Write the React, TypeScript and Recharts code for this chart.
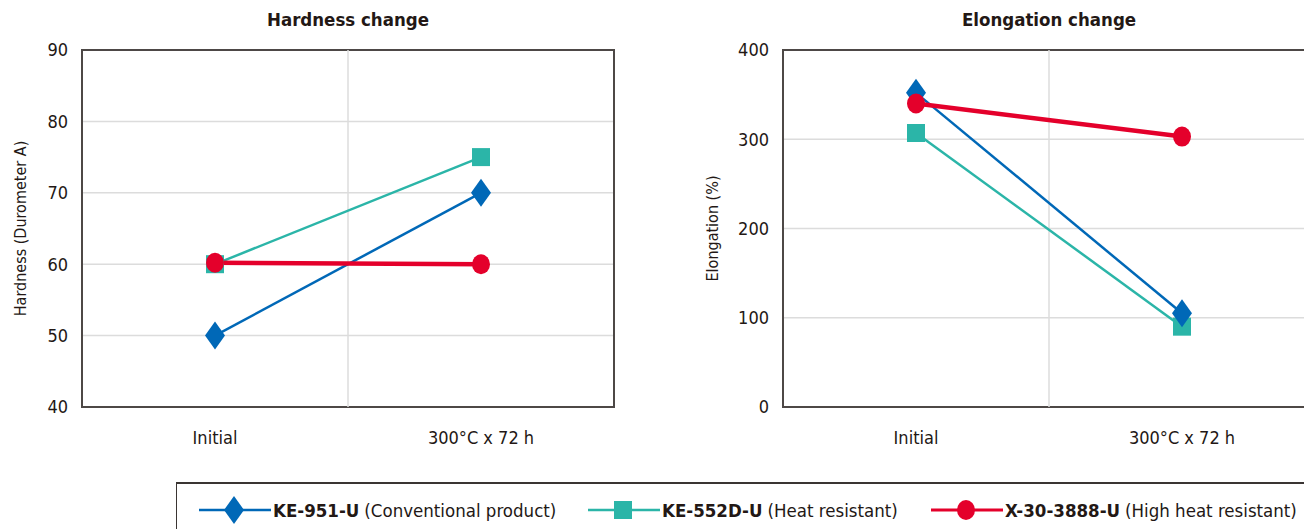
import React from 'react';
import { LineChart, Line, XAxis, YAxis, CartesianGrid, ReferenceLine, ReferenceArea } from 'recharts';

const FONT = '"Liberation Sans Narrow", "DejaVu Sans Condensed", "Roboto", sans-serif';

// categories sit in the middle of two equal bands
const conditions = ['Initial', '300°C x 72 h'];
const conditionX = [0.5, 1.5];

const hardnessKE951 = [50, 70];
const hardnessKE552D = [60, 75];
const hardnessX303888 = [60.2, 60];

const elongationKE951 = [352, 105];
const elongationKE552D = [307, 90];
const elongationX303888 = [340, 303];

const hardnessTicks = [40, 50, 60, 70, 80, 90];
const elongationTicks = [0, 100, 200, 300, 400];

type Shape = 'diamond' | 'square' | 'circle';
type Series = { key: string; code: string; note: string; color: string; width: number; shape: Shape };

// drawing order: teal, blue, red (red on top)
const series: Series[] = [
  { key: 'ke552d', code: 'KE-552D-U', note: '(Heat resistant)', color: '#2bb5a8', width: 2.5, shape: 'square' },
  { key: 'ke951', code: 'KE-951-U', note: '(Conventional product)', color: '#0068b7', width: 2.5, shape: 'diamond' },
  { key: 'x303888', code: 'X-30-3888-U', note: '(High heat resistant)', color: '#e4002b', width: 4.5, shape: 'circle' },
];
const legendOrder = ['ke951', 'ke552d', 'x303888'];
const legendLeft = [22, 411, 754];

const hardnessData = conditions.map((c, i) => ({
  x: conditionX[i], name: c,
  ke951: hardnessKE951[i], ke552d: hardnessKE552D[i], x303888: hardnessX303888[i],
}));
const elongationData = conditions.map((c, i) => ({
  x: conditionX[i], name: c,
  ke951: elongationKE951[i], ke552d: elongationKE552D[i], x303888: elongationX303888[i],
}));

const Marker = ({ shape, color, cx, cy }: { shape: Shape; color: string; cx: number; cy: number }) => {
  if (shape === 'diamond')
    return <polygon points={`${cx},${cy - 14} ${cx + 10},${cy} ${cx},${cy + 14} ${cx - 10},${cy}`} fill={color} />;
  if (shape === 'square') return <rect x={cx - 9} y={cy - 9} width={18} height={18} fill={color} />;
  return <ellipse cx={cx} cy={cy} rx={9} ry={10} fill={color} />;
};

const dotFor = (s: Series) => (p: any) => (
  <Marker key={`${s.key}-${p.index}`} shape={s.shape} color={s.color} cx={p.cx} cy={p.cy} />
);

const tickStyle = { fill: '#231815', fontSize: 18, fontFamily: FONT };

const Panel = ({ data, domain, ticks, label, labelOffset, width }: {
  data: any[]; domain: [number, number]; ticks: number[]; label: string; labelOffset: number; width: number;
}) => (
  <LineChart width={width} height={460} data={data} margin={{ top: 50, right: width === 650 ? 36 : 5, bottom: 23, left: 0 }}>
    <CartesianGrid vertical={false} stroke="#dcdcdc" strokeWidth={1.5} />
    <ReferenceLine x={1} stroke="#dcdcdc" strokeWidth={1.5} />
    <XAxis type="number" dataKey="x" domain={[0, 2]} ticks={conditionX}
      tickFormatter={(v: number) => conditions[conditionX.indexOf(v)]}
      axisLine={false} tickLine={false} tick={tickStyle} tickMargin={18} height={30} />
    <YAxis domain={domain} ticks={ticks} axisLine={false} tickLine={false} tick={tickStyle}
      tickMargin={8} width={width === 650 ? 82 : 83} interval={0}
      label={{ value: label, angle: -90, position: 'insideLeft', offset: labelOffset,
        style: { textAnchor: 'middle', fill: '#231815', fontSize: 16, fontFamily: FONT } }} />
    <ReferenceArea x1={0} x2={2} y1={domain[0]} y2={domain[1]} fill="none" fillOpacity={0}
      stroke="#4d4846" strokeWidth={2} />
    {series.map((s) => (
      <Line key={s.key} type="linear" dataKey={s.key} stroke={s.color} strokeWidth={s.width}
        dot={dotFor(s)} activeDot={false} isAnimationActive={false} />
    ))}
  </LineChart>
);

const titleStyle: React.CSSProperties = {
  position: 'absolute', top: 9, fontFamily: FONT, fontWeight: 700, fontSize: 18.5,
  color: '#231815', textAlign: 'center', width: 300,
};

export default function App() {
  return (
    <div style={{ position: 'absolute', left: 0, top: 0, width: 1304, height: 529, overflow: 'hidden', background: '#fff' }}>
      <div style={{ ...titleStyle, left: 348 - 150 }}>Hardness change</div>
      <div style={{ ...titleStyle, left: 1049 - 150 }}>Elongation change</div>
      <div style={{ position: 'absolute', left: 0, top: 0 }}>
        <Panel data={hardnessData} domain={[40, 90]} ticks={hardnessTicks} label="Hardness (Durometer A)" labelOffset={20} width={650} />
      </div>
      <div style={{ position: 'absolute', left: 700, top: 0 }}>
        <Panel data={elongationData} domain={[0, 400]} ticks={elongationTicks} label="Elongation (%)" labelOffset={12} width={620} />
      </div>
      <div style={{ position: 'absolute', left: 176, top: 482, width: 1200, height: 60,
        borderTop: '2px solid #3a3533', borderLeft: '1.5px solid #3a3533' }}>
        {legendOrder.map((k, i) => {
          const s = series.find((x) => x.key === k)!;
          return (
            <div key={k} style={{ position: 'absolute', left: legendLeft[i], top: 11, display: 'flex', alignItems: 'center',
              fontFamily: FONT, fontSize: 18.5, color: '#231815', whiteSpace: 'nowrap' }}>
              <svg width={72} height={30}>
                <line x1={0} y1={15} x2={72} y2={15} stroke={s.color} strokeWidth={s.width === 2.5 ? 2.5 : 3} />
                <Marker shape={s.shape} color={s.color} cx={35} cy={15} />
              </svg>
              <span style={{ marginLeft: 2, fontWeight: 700 }}>{s.code}</span>
              <span style={{ marginLeft: 5 }}>{s.note}</span>
            </div>
          );
        })}
      </div>
    </div>
  );
}
